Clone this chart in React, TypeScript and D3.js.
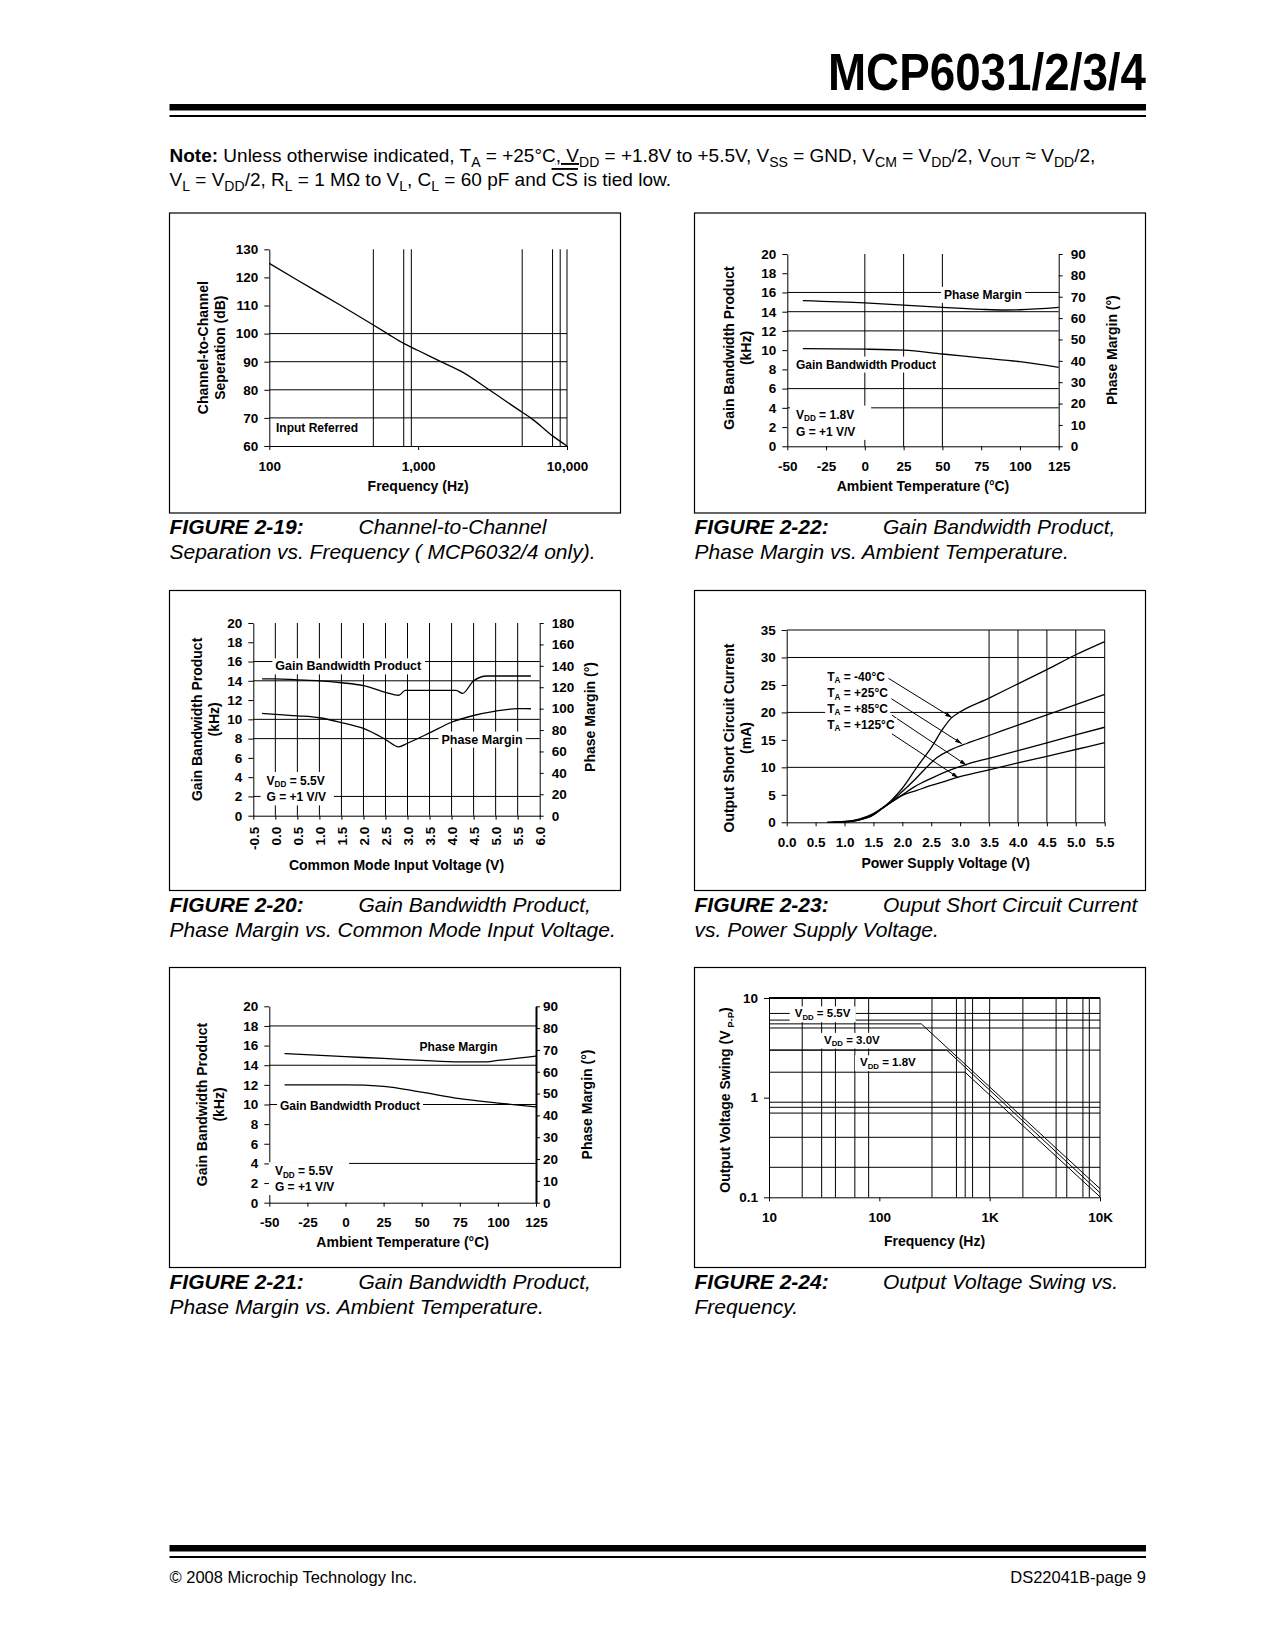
import { useEffect, useRef } from "react";
import * as d3 from "d3";

const FONT = "'Liberation Sans', Arial, Helvetica, sans-serif";

// FIGURE 2-19: channel-to-channel separation vs frequency
const sepFreq = [100, 155, 303, 622, 800, 1000, 1420, 2000, 3000, 5000, 5700, 8000, 10000];
const sepDb = [125, 119, 110, 100, 96.5, 94, 90, 86.2, 80, 72, 70, 63.6, 60];
const sepYTicks = [60, 70, 80, 90, 100, 110, 120, 130];
const sepXTicks = [100, 1000, 10000];
const sepXLabels = ["100", "1,000", "10,000"];
const sepHGrid = [70, 80, 90, 100];
const sepVGrid = [500, 800, 900, 5000, 8000, 9000];

// temperature charts (2-21 and 2-22)
const tempTicks = [-50, -25, 0, 25, 50, 75, 100, 125];
const gbwTicks = [0, 2, 4, 6, 8, 10, 12, 14, 16, 18, 20];
const pmTicks = [0, 10, 20, 30, 40, 50, 60, 70, 80, 90];

const gbw18Temp = [-40, 0, 25, 50, 75, 100, 125];
const gbw18 = [10.15, 10.1, 10.0, 9.6, 9.2, 8.8, 8.2];
const pm18Temp = [-40, 0, 25, 50, 75, 90, 100, 125];
const pm18 = [68.2, 67.1, 66.1, 65.0, 64.1, 63.8, 63.9, 65.0];
const temp18HGrid = [4, 6, 12, 14, 16];
const temp18VGrid = [0, 25, 50];

const gbw55Temp = [-40, 0, 25, 50, 75, 100, 125];
const gbw55 = [12.0, 12.0, 11.85, 11.25, 10.6, 10.15, 9.75];
const pm55Temp = [-40, 0, 25, 50, 75, 90, 100, 125];
const pm55 = [68.3, 66.9, 66.1, 65.2, 64.5, 64.5, 65.2, 67.2];
const temp55HGrid = [4, 10, 14, 18];

// FIGURE 2-20: common mode input voltage
const vcmTicks = [-0.5, 0, 0.5, 1, 1.5, 2, 2.5, 3, 3.5, 4, 4.5, 5, 5.5, 6];
const pm180Ticks = [0, 20, 40, 60, 80, 100, 120, 140, 160, 180];
const gbwVcmV = [-0.3, 0, 0.5, 1, 1.5, 2, 2.5, 2.8, 2.95, 3.5, 4.1, 4.25, 4.5, 4.8, 5.8];
const gbwVcm = [14.2, 14.2, 14.1, 14.0, 13.8, 13.5, 12.8, 12.5, 13.0, 13.0, 13.0, 12.7, 14.0, 14.5, 14.5];
const pmVcmV = [-0.3, 0, 0.5, 1, 1.5, 2, 2.5, 2.8, 3, 3.5, 4, 4.5, 5, 5.5, 5.8];
const pmVcm = [95.6, 94.6, 93.3, 91.5, 87, 81.5, 71.2, 64.3, 67.7, 77.3, 87.3, 93.6, 97.7, 100, 99.9];
const vcmHGrid = [2, 8, 10, 14, 16];
const vcmVGrid = [0, 0.5, 1, 1.5, 2, 2.5, 3, 3.5, 4, 4.5, 5, 5.5];

// FIGURE 2-23: output short circuit current
const supplyTicks = [0, 0.5, 1, 1.5, 2, 2.5, 3, 3.5, 4, 4.5, 5, 5.5];
const iscTicks = [0, 5, 10, 15, 20, 25, 30, 35];
const iscTemps = ["-40°C", "+25°C", "+85°C", "+125°C"];
const iscM40V = [0.7, 1.0, 1.25, 1.5, 1.65, 1.8, 2.0, 2.25, 2.5, 2.7, 2.85, 3.0, 3.5, 4.0, 4.5, 5.0, 5.5];
const iscM40 = [0, 0.15, 0.6, 1.6, 2.6, 3.9, 6.2, 10, 13.6, 17, 19, 20.1, 22.6, 25.2, 27.8, 30.5, 32.9];
const iscP25V = [0.7, 1.0, 1.25, 1.5, 1.65, 1.8, 2.0, 2.2, 2.4, 2.6, 2.8, 3.1, 3.5, 4.0, 4.5, 5.0, 5.5];
const iscP25 = [0, 0.1, 0.5, 1.5, 2.5, 3.7, 5.6, 7.6, 9.8, 11.8, 13.0, 14.3, 15.8, 17.7, 19.55, 21.4, 23.3];
const iscP85V = [0.8, 1.0, 1.25, 1.5, 1.65, 1.8, 2.0, 2.2, 2.5, 2.8, 3.11, 3.5, 4.0, 4.5, 5.0, 5.5];
const iscP85 = [0, 0.08, 0.45, 1.4, 2.5, 3.6, 5.0, 6.4, 8.0, 9.4, 10.56, 11.65, 13.05, 14.45, 15.9, 17.3];
const iscP125V = [0.8, 1.0, 1.25, 1.5, 1.65, 1.8, 2.0, 2.25, 2.5, 2.75, 2.98, 3.5, 4.0, 4.5, 5.0, 5.5];
const iscP125 = [0, 0.05, 0.4, 1.35, 2.5, 3.6, 4.9, 5.8, 6.7, 7.5, 8.26, 9.55, 10.8, 12.0, 13.25, 14.5];
const iscHGrid = [10, 20, 30, 35];
const iscVGrid = [3.5, 4, 4.5, 5, 5.5];

// FIGURE 2-24: output voltage swing vs frequency
const swingFreqTicks = [10, 100, 1000, 10000];
const swingFreqLabels = ["10", "100", "1K", "10K"];
const swingTicks = [0.1, 1, 10];
const swingLabels = ["0.1", "1", "10"];
const swingSupplies = ["5.5V", "3.0V", "1.8V"];
const swingFreq = [
  [10, 240, 10000],
  [10, 408, 10000],
  [10, 598, 10000],
];
const swingVpp = [
  [5.5, 5.5, 0.122],
  [3.0, 3.0, 0.111],
  [1.8, 1.8, 0.101],
];
const swingHGrid = [0.2, 0.4, 0.7, 0.8, 0.9, 3, 5, 6, 7];
const swingVGrid = [20, 30, 40, 60, 80, 300, 500, 600, 700, 1000, 2000, 4000, 5000, 7000, 8000];

type Sel = d3.Selection<any, unknown, null, undefined>;
type Part = [string, string?];

function hl(g: Sel, x1: number, x2: number, y: number, w = 1) {
  g.append("line").attr("x1", x1).attr("x2", x2).attr("y1", y).attr("y2", y)
    .attr("stroke", "#000").attr("stroke-width", w);
}
function vl(g: Sel, x: number, y1: number, y2: number, w = 1) {
  g.append("line").attr("x1", x).attr("x2", x).attr("y1", y1).attr("y2", y2)
    .attr("stroke", "#000").attr("stroke-width", w);
}

function styleAxis(a: Sel, size = 13.5) {
  a.attr("font-size", size).attr("font-family", FONT).attr("font-weight", "bold");
  a.selectAll("text").attr("fill", "#000");
  a.selectAll("line,path").attr("stroke", "#000");
  return a;
}

// text with subscripts / under- and overlines
function rich(g: Sel, x: number, y: number, parts: Part[], size: number, subScale = 0.68) {
  const t = g.append("text").attr("x", x).attr("y", y)
    .attr("font-size", size).attr("font-family", FONT).attr("fill", "#000");
  const shift = size * 0.28;
  let down = false;
  parts.forEach(([s, k]) => {
    const ts = t.append("tspan").text(s);
    if (k === "sub") {
      ts.attr("font-size", size * subScale);
      if (!down) { ts.attr("dy", shift); down = true; }
    } else {
      if (down) { ts.attr("dy", -shift); down = false; }
      if (k === "b") ts.attr("font-weight", "bold");
      if (k === "u") ts.style("text-decoration", "underline");
      if (k === "o") ts.style("text-decoration", "overline");
    }
  });
  return t;
}

// bold label on a white box that breaks the grid
function label(g: Sel, x: number, y: number, parts: Part[], size = 12, padX = 3, padY = 1, padR = padX) {
  const grp = g.append("g");
  const t = rich(grp, x, y, parts, size).attr("font-weight", "bold").attr("dominant-baseline", "central");
  const bb = (t.node() as SVGTextElement).getBBox();
  grp.insert("rect", "text")
    .attr("x", bb.x - padX).attr("y", bb.y - padY)
    .attr("width", bb.width + padX + padR).attr("height", bb.height + 2 * padY)
    .attr("fill", "#fff");
  return grp;
}

function hTitle(g: Sel, cx: number, y: number, parts: Part[], size = 14) {
  rich(g, cx, y, parts, size).attr("font-weight", "bold").attr("text-anchor", "middle");
}
function vTitle(g: Sel, cx: number, cy: number, parts: Part[], size = 14) {
  rich(g, 0, 0, parts, size).attr("font-weight", "bold").attr("text-anchor", "middle")
    .attr("transform", `translate(${cx + size * 0.36},${cy}) rotate(-90)`);
}

function series(g: Sel, xs: number[], ys: number[], sx: any, sy: any, smooth = true, w = 1.3) {
  const gen = d3.line<number>()
    .x((_, i) => sx(xs[i]))
    .y((d) => sy(d))
    .curve(smooth ? d3.curveMonotoneX : d3.curveLinear);
  g.append("path").attr("d", gen(ys)).attr("fill", "none").attr("stroke", "#000").attr("stroke-width", w);
}

function frame(svg: Sel, x: number, y: number) {
  svg.append("rect").attr("x", x).attr("y", y).attr("width", 451).attr("height", 300)
    .attr("fill", "none").attr("stroke", "#000").attr("stroke-width", 1.2);
}

function caption(svg: Sel, x: number, descX: number, y: number, fig: string, l1: string, l2: string) {
  const base = (t: Sel) => t.attr("font-family", FONT).attr("font-size", 21).attr("font-style", "italic").attr("fill", "#000");
  base(svg.append("text").attr("x", x).attr("y", y).attr("font-weight", "bold").text(fig));
  base(svg.append("text").attr("x", descX).attr("y", y).text(l1));
  base(svg.append("text").attr("x", x).attr("y", y + 25).text(l2));
}

function leftAxis(g: Sel, y: any, x: number, ticks: number[], fmt = (d: any) => String(d)) {
  return styleAxis(g.append("g").attr("transform", `translate(${x},0)`)
    .call(d3.axisLeft(y).tickValues(ticks).tickFormat(fmt).tickSize(5).tickPadding(6).tickSizeOuter(0)));
}
function rightAxis(g: Sel, y: any, x: number, ticks: number[], pad = 3) {
  return styleAxis(g.append("g").attr("transform", `translate(${x},0)`)
    .call(d3.axisRight(y).tickValues(ticks).tickFormat((d: any) => String(d)).tickSize(4).tickPadding(pad).tickSizeOuter(0)));
}
function bottomAxis(g: Sel, x: any, y: number, ticks: number[], fmt: any) {
  return styleAxis(g.append("g").attr("transform", `translate(0,${y})`)
    .call(d3.axisBottom(x).tickValues(ticks).tickFormat(fmt).tickSize(4).tickPadding(11).tickSizeOuter(0)));
}

function fig19(svg: Sel) {
  const g = svg.append("g");
  const x = d3.scaleLog().domain([100, 10000]).range([269.3, 567]);
  const y = d3.scaleLinear().domain([60, 130]).range([446, 249.3]);
  const [x0, x1] = x.range();
  const [yb, yt] = y.range();
  sepHGrid.forEach((v) => hl(g, x0, x1, y(v)));
  sepVGrid.forEach((f) => vl(g, x(f), yt, yb));
  vl(g, x1, yt, yb);
  leftAxis(g, y, x0, sepYTicks);
  bottomAxis(g, x, yb, sepXTicks, (_: any, i: number) => sepXLabels[i]);
  series(g, sepFreq, sepDb, x, y);
  label(g, x(111), y(66.4), [["Input Referred"]]);
  hTitle(g, (x0 + x1) / 2, 491, [["Frequency (Hz)"]]);
  vTitle(g, 203, (yt + yb) / 2, [["Channel-to-Channel"]]);
  vTitle(g, 220, (yt + yb) / 2, [["Seperation (dB)"]]);
}

function tempChart(
  svg: Sel, xr: number[], yr: number[], gbwT: number[], gbw: number[], pmT: number[], pm: number[],
  hGrid: number[], vGrid: number[], rightW: number, rightPad: number,
) {
  const g = svg.append("g");
  const x = d3.scaleLinear().domain([-50, 125]).range(xr);
  const yl = d3.scaleLinear().domain([0, 20]).range(yr);
  const yp = d3.scaleLinear().domain([0, 90]).range(yr);
  const [x0, x1] = xr;
  const [yb, yt] = yr;
  hGrid.forEach((v) => hl(g, x0, x1, yl(v)));
  vGrid.forEach((v) => vl(g, x(v), yt, yb));
  leftAxis(g, yl, x0, gbwTicks);
  const ra = rightAxis(g, yp, x1, pmTicks, rightPad);
  ra.select(".domain").attr("stroke-width", rightW);
  bottomAxis(g, x, yb, tempTicks, (d: any) => String(d));
  series(g, gbwT, gbw, x, yl);
  series(g, pmT, pm, x, yp);
  return { g, x, yl, yp, x0, x1, yb, yt };
}

function fig22(svg: Sel) {
  const { g, x, yl, x0, x1, yb, yt } = tempChart(svg, [787.3, 1058.7], [446.3, 254],
    gbw18Temp, gbw18, pm18Temp, pm18, temp18HGrid, temp18VGrid, 1, 8);
  label(g, x(51), yl(15.75), [["Phase Margin"]]);
  label(g, x(-44.4), yl(8.5), [["Gain Bandwidth Product"]]);
  label(g, x(-44.4), yl(3.3), [["V"], ["DD", "sub"], [" = 1.8V"]], 12, 6, 2, 17);
  label(g, x(-44.4), yl(1.5), [["G = +1 V/V"]], 12, 6, 1, 17);
  hTitle(g, (x0 + x1) / 2, 491, [["Ambient Temperature (°C)"]]);
  vTitle(g, 729, 348, [["Gain Bandwidth Product"]]);
  vTitle(g, 746, 348, [["(kHz)"]]);
  vTitle(g, 1112, (yt + yb) / 2, [["Phase Margin (°)"]]);
}

function fig21(svg: Sel) {
  const { g, x, yl, x0, x1, yb, yt } = tempChart(svg, [269.3, 536], [1202.7, 1006.3],
    gbw55Temp, gbw55, pm55Temp, pm55, temp55HGrid, [], 2, 3);
  label(g, x(48.6), yl(15.9), [["Phase Margin"]]);
  label(g, x(-43), yl(9.8), [["Gain Bandwidth Product"]]);
  label(g, x(-46.3), yl(3.2), [["V"], ["DD", "sub"], [" = 5.5V"]], 12, 6, 2, 16);
  label(g, x(-46.3), yl(1.6), [["G = +1 V/V"]], 12, 6, 1, 16);
  hTitle(g, (x0 + x1) / 2, 1247, [["Ambient Temperature (°C)"]]);
  vTitle(g, 202, (yt + yb) / 2, [["Gain Bandwidth Product"]]);
  vTitle(g, 219, (yt + yb) / 2, [["(kHz)"]]);
  vTitle(g, 587, (yt + yb) / 2, [["Phase Margin (°)"]]);
}

function fig20(svg: Sel) {
  const g = svg.append("g");
  const x = d3.scaleLinear().domain([-0.5, 6]).range([253.3, 539.7]);
  const yl = d3.scaleLinear().domain([0, 20]).range([815.7, 623]);
  const yp = d3.scaleLinear().domain([0, 180]).range([815.7, 623]);
  const [x0, x1] = x.range();
  const [yb, yt] = yl.range();
  vcmHGrid.forEach((v) => hl(g, x0, x1, yl(v)));
  vcmVGrid.forEach((v) => vl(g, x(v), yt, yb));
  leftAxis(g, yl, x0, gbwTicks);
  rightAxis(g, yp, x1, pm180Ticks, 8);
  const ba = bottomAxis(g, x, yb, vcmTicks, (d: any) => (+d).toFixed(1));
  ba.selectAll(".tick text")
    .attr("transform", "rotate(-90)")
    .attr("text-anchor", "end")
    .attr("x", -11)
    .attr("y", 0)
    .attr("dy", "0.36em");
  series(g, gbwVcmV, gbwVcm, x, yl);
  series(g, pmVcmV, pmVcm, x, yp);
  label(g, x(0), yl(15.5), [["Gain Bandwidth Product"]], 12.5);
  label(g, x(3.77), yl(7.9), [["Phase Margin"]], 12.5);
  label(g, x(-0.2), yl(3.6), [["V"], ["DD", "sub"], [" = 5.5V"]], 12, 6, 2, 8);
  label(g, x(-0.2), yl(1.9), [["G = +1 V/V"]], 12, 6, 1, 8);
  hTitle(g, (x0 + x1) / 2, 870, [["Common Mode Input Voltage (V)"]]);
  vTitle(g, 197, (yt + yb) / 2, [["Gain Bandwidth Product"]]);
  vTitle(g, 214, (yt + yb) / 2, [["(kHz)"]]);
  vTitle(g, 590, 717, [["Phase Margin (°)"]]);
}

function fig23(svg: Sel) {
  const g = svg.append("g");
  const x = d3.scaleLinear().domain([0, 5.5]).range([786.7, 1104.7]);
  const y = d3.scaleLinear().domain([0, 35]).range([822.3, 630]);
  const [x0, x1] = x.range();
  const [yb, yt] = y.range();
  iscHGrid.forEach((v) => hl(g, x0, x1, y(v)));
  iscVGrid.forEach((v) => vl(g, x(v), yt, yb));
  leftAxis(g, y, x0, iscTicks);
  bottomAxis(g, x, yb, supplyTicks, (d: any) => (+d).toFixed(1));
  series(g, iscM40V, iscM40, x, y);
  series(g, iscP25V, iscP25, x, y);
  series(g, iscP85V, iscP85, x, y);
  series(g, iscP125V, iscP125, x, y);

  const defs = svg.append("defs");
  defs.append("marker").attr("id", "arrowhead").attr("viewBox", "0 0 10 10")
    .attr("refX", 10).attr("refY", 5).attr("markerWidth", 7).attr("markerHeight", 7)
    .attr("markerUnits", "userSpaceOnUse").attr("orient", "auto")
    .append("path").attr("d", "M0,2L10,5L0,8Z").attr("fill", "#000");

  const labelLevels = [26.5, 23.5, 20.6, 17.7];
  const arrows = [
    [1.76, 26.2, 2.86, 19.05],
    [1.81, 22.5, 3.03, 14.3],
    [1.82, 19.5, 3.11, 10.4],
    [1.82, 16.1, 2.97, 8.1],
  ];
  iscTemps.forEach((t, i) => {
    label(g, x(0.7), y(labelLevels[i]), [["T"], ["A", "sub"], [" = " + t]], 12, 2, 0);
    const [ax, ay, bx, by] = arrows[i];
    g.append("line").attr("x1", x(ax)).attr("y1", y(ay)).attr("x2", x(bx)).attr("y2", y(by))
      .attr("stroke", "#000").attr("stroke-width", 1).attr("marker-end", "url(#arrowhead)");
  });
  hTitle(g, (x0 + x1) / 2, 868, [["Power Supply Voltage (V)"]]);
  vTitle(g, 729, 738, [["Output Short Circuit Current"]]);
  vTitle(g, 746, 738, [["(mA)"]]);
}

function fig24(svg: Sel) {
  const g = svg.append("g");
  const x = d3.scaleLog().domain([10, 10000]).range([769, 1100]);
  const y = d3.scaleLog().domain([0.1, 10]).range([1197.3, 998]);
  const [x0, x1] = x.range();
  const [yb, yt] = y.range();
  swingHGrid.forEach((v) => hl(g, x0, x1, y(v)));
  hl(g, x0, x1, yt, 2);
  swingVGrid.forEach((f) => vl(g, x(f), yt, yb));
  vl(g, x1, yt, yb);
  leftAxis(g, y, x0, swingTicks, (_: any, i: number) => swingLabels[i]);
  bottomAxis(g, x, yb, swingFreqTicks, (_: any, i: number) => swingFreqLabels[i]);
  swingFreq.forEach((fs, i) => series(g, fs, swingVpp[i], x, y, false, 1));
  const spots = [
    [17.1, 7],
    [31.5, 3.8],
    [66.8, 2.26],
  ];
  swingSupplies.forEach((s, i) => {
    label(g, x(spots[i][0]), y(spots[i][1]), [["V"], ["DD", "sub"], [" = " + s]], 11.5, 5, 1);
  });
  hTitle(g, (x0 + x1) / 2, 1246, [["Frequency (Hz)"]]);
  vTitle(g, 725, 1100, [["Output Voltage Swing (V"], [" P-P", "sub"], [")"]]);
}

function page(svg: Sel) {
  svg.append("rect").attr("width", 1275).attr("height", 1650).attr("fill", "#fff");
  svg.append("text").attr("x", 1146).attr("y", 89.5).attr("text-anchor", "end")
    .attr("font-family", FONT).attr("font-size", 52).attr("font-weight", "bold")
    .attr("textLength", 318).attr("lengthAdjust", "spacingAndGlyphs").text("MCP6031/2/3/4");
  svg.append("rect").attr("x", 169.5).attr("y", 104).attr("width", 976.5).attr("height", 6.5);
  svg.append("rect").attr("x", 169.5).attr("y", 115).attr("width", 976.5).attr("height", 2);

  rich(svg, 169.5, 162, [
    ["Note:", "b"], [" Unless otherwise indicated, T"], ["A", "sub"], [" = +25°C"], [", V", "u"], ["DD", "sub"],
    [" = +1.8V to +5.5V, V"], ["SS", "sub"], [" = GND, V"], ["CM", "sub"], [" = V"], ["DD", "sub"],
    ["/2, V"], ["OUT", "sub"], [" ≈ V"], ["DD", "sub"], ["/2,"],
  ], 19, 0.74);
  rich(svg, 169.5, 186, [
    ["V"], ["L", "sub"], [" = V"], ["DD", "sub"], ["/2, R"], ["L", "sub"], [" = 1 MΩ to V"], ["L", "sub"],
    [", C"], ["L", "sub"], [" = 60 pF and "], ["CS", "o"], [" is tied low."],
  ], 19, 0.74);

  [[169.5, 213], [694.5, 213], [169.5, 590.5], [694.5, 590.5], [169.5, 967.5], [694.5, 967.5]]
    .forEach(([x, y]) => frame(svg, x, y));

  caption(svg, 169.5, 358.5, 534, "FIGURE 2-19:", "Channel-to-Channel", "Separation vs. Frequency ( MCP6032/4 only).");
  caption(svg, 694.5, 883, 534, "FIGURE 2-22:", "Gain Bandwidth Product,", "Phase Margin vs. Ambient Temperature.");
  caption(svg, 169.5, 358.5, 911.5, "FIGURE 2-20:", "Gain Bandwidth Product,", "Phase Margin vs. Common Mode Input Voltage.");
  caption(svg, 694.5, 883, 911.5, "FIGURE 2-23:", "Ouput Short Circuit Current", "vs. Power Supply Voltage.");
  caption(svg, 169.5, 358.5, 1289, "FIGURE 2-21:", "Gain Bandwidth Product,", "Phase Margin vs. Ambient Temperature.");
  caption(svg, 694.5, 883, 1289, "FIGURE 2-24:", "Output Voltage Swing vs.", "Frequency.");

  svg.append("rect").attr("x", 169.5).attr("y", 1545).attr("width", 976.5).attr("height", 6.5);
  svg.append("rect").attr("x", 169.5).attr("y", 1556).attr("width", 976.5).attr("height", 2);
  svg.append("text").attr("x", 169.5).attr("y", 1583).attr("font-family", FONT).attr("font-size", 16.5)
    .text("© 2008 Microchip Technology Inc.");
  svg.append("text").attr("x", 1146).attr("y", 1583).attr("text-anchor", "end").attr("font-family", FONT)
    .attr("font-size", 16.5).text("DS22041B-page 9");
}

export default function App() {
  const ref = useRef<SVGSVGElement>(null);

  useEffect(() => {
    const svg = d3.select(ref.current) as Sel;
    svg.selectAll("*").remove();
    page(svg);
    fig19(svg);
    fig22(svg);
    fig20(svg);
    fig23(svg);
    fig21(svg);
    fig24(svg);
  }, []);

  return (
    <svg
      ref={ref}
      width={1275}
      height={1650}
      style={{ position: "absolute", left: 0, top: 0, display: "block" }}
    />
  );
}
